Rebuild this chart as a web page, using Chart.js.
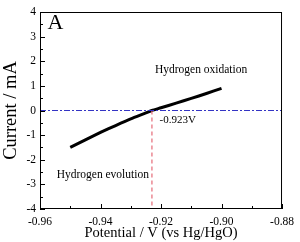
<!DOCTYPE html>
<html>
<head>
<meta charset="utf-8">
<script src="https://cdn.jsdelivr.net/npm/chart.js@4/dist/chart.umd.min.js"></script>
<style>
  html, body { margin: 0; padding: 0; background: #fff; }
  #wrap { width: 300px; height: 242px; }
</style>
</head>
<body>
<div id="wrap"><canvas id="cv" width="300" height="242"></canvas></div>
<script>
// --- data ---
const potential = [-0.950, -0.945, -0.940, -0.935, -0.930, -0.925, -0.923, -0.920, -0.915, -0.910, -0.905, -0.900];
const current   = [-1.50,  -1.19,  -0.89,  -0.61,  -0.34,  -0.10,   0.00,   0.11,   0.30,   0.49,   0.69,   0.90];
const zeroLineX = [-0.96, -0.88];
const zeroLineY = [0, 0];
const onsetX = [-0.923, -0.923];
const onsetY = [0, -4];
const xTicks = [-0.96, -0.94, -0.92, -0.90, -0.88];
const xMinor = [-0.95, -0.93, -0.91, -0.89];
const yTicks = [-4, -3, -2, -1, 0, 1, 2, 3, 4];
const yMinor = [-3.5, -2.5, -1.5, -0.5, 0.5, 1.5, 2.5, 3.5];
const notes = [
    { text: 'A', x: -0.9575, y: 3.55, size: 22 },
    { text: 'Hydrogen oxidation', x: -0.922, y: 1.66, size: 11.5 },
    { text: 'Hydrogen evolution', x: -0.9545, y: -2.61, size: 11.5 },
    { text: '-0.923V', x: -0.9205, y: -0.4, size: 11 }
];

const serif = '"Liberation Serif", "DejaVu Serif", serif';
const toXY = (xs, ys) => xs.map((x, i) => ({ x: x, y: ys[i] }));

// frame + inward ticks + text notes
const framePlugin = {
    id: 'frame',
    afterDatasetsDraw(chart) {
        const { ctx, chartArea: a, scales: { x, y } } = chart;
        ctx.save();
        ctx.strokeStyle = '#000';
        ctx.lineWidth = 1;
        ctx.strokeRect(a.left + 0.5, a.top + 0.5, a.right - a.left - 1, a.bottom - a.top - 1);
        ctx.beginPath();
        xTicks.forEach(v => { const px = Math.round(x.getPixelForValue(v)) + 0.5; ctx.moveTo(px, a.bottom); ctx.lineTo(px, a.bottom - 5); });
        xMinor.forEach(v => { const px = Math.round(x.getPixelForValue(v)) + 0.5; ctx.moveTo(px, a.bottom); ctx.lineTo(px, a.bottom - 3); });
        yTicks.forEach(v => { const py = Math.round(y.getPixelForValue(v)) + 0.5; ctx.moveTo(a.left, py); ctx.lineTo(a.left + 5, py); });
        yMinor.forEach(v => { const py = Math.round(y.getPixelForValue(v)) + 0.5; ctx.moveTo(a.left, py); ctx.lineTo(a.left + 3, py); });
        ctx.stroke();
        ctx.fillStyle = '#000';
        ctx.textBaseline = 'middle';
        ctx.textAlign = 'left';
        notes.forEach(n => {
            ctx.font = n.size + 'px ' + serif;
            ctx.fillText(n.text, x.getPixelForValue(n.x), y.getPixelForValue(n.y));
        });
        ctx.restore();
    }
};

new Chart(document.getElementById('cv'), {
    type: 'scatter',
    data: {
        datasets: [
            {
                data: toXY(zeroLineX, zeroLineY),
                showLine: true,
                borderColor: '#3434c4',
                borderWidth: 1.2,
                borderDash: [6, 2, 2, 2],
                pointRadius: 0
            },
            {
                data: toXY(onsetX, onsetY),
                showLine: true,
                borderColor: '#e66a78',
                borderWidth: 1.2,
                borderDash: [4, 3],
                pointRadius: 0
            },
            {
                data: toXY(potential, current),
                showLine: true,
                borderColor: '#000',
                borderWidth: 3,
                tension: 0.2,
                pointRadius: 0
            }
        ]
    },
    options: {
        responsive: false,
        animation: false,
        devicePixelRatio: 1,
        layout: { padding: { top: 12, right: 14, left: 0, bottom: 0 } },
        plugins: { legend: { display: false }, tooltip: { enabled: false } },
        scales: {
            x: {
                type: 'linear',
                min: -0.96, max: -0.88,
                afterBuildTicks: s => { s.ticks = xTicks.map(v => ({ value: v })); },
                afterFit: s => { s.height = 33; },
                grid: { display: false, drawTicks: false },
                border: { display: false },
                ticks: {
                    padding: 6,
                    color: '#000',
                    font: { family: serif, size: 11.5 },
                    callback: v => v.toFixed(2)
                },
                title: {
                    display: true,
                    text: 'Potential / V (vs Hg/HgO)',
                    color: '#000',
                    font: { family: serif, size: 14.5 },
                    padding: { top: 0, bottom: 0 }
                }
            },
            y: {
                min: -4, max: 4,
                afterBuildTicks: s => { s.ticks = yTicks.map(v => ({ value: v })); },
                afterFit: s => { s.width = 40; },
                grid: { display: false, drawTicks: false },
                border: { display: false },
                ticks: {
                    padding: 4,
                    color: '#000',
                    font: { family: serif, size: 11.5 }
                },
                title: {
                    display: true,
                    text: 'Current / mA',
                    color: '#000',
                    font: { family: serif, size: 18.5 },
                    padding: { top: 0, bottom: 0 }
                }
            }
        }
    },
    plugins: [framePlugin]
});
</script>
</body>
</html>
